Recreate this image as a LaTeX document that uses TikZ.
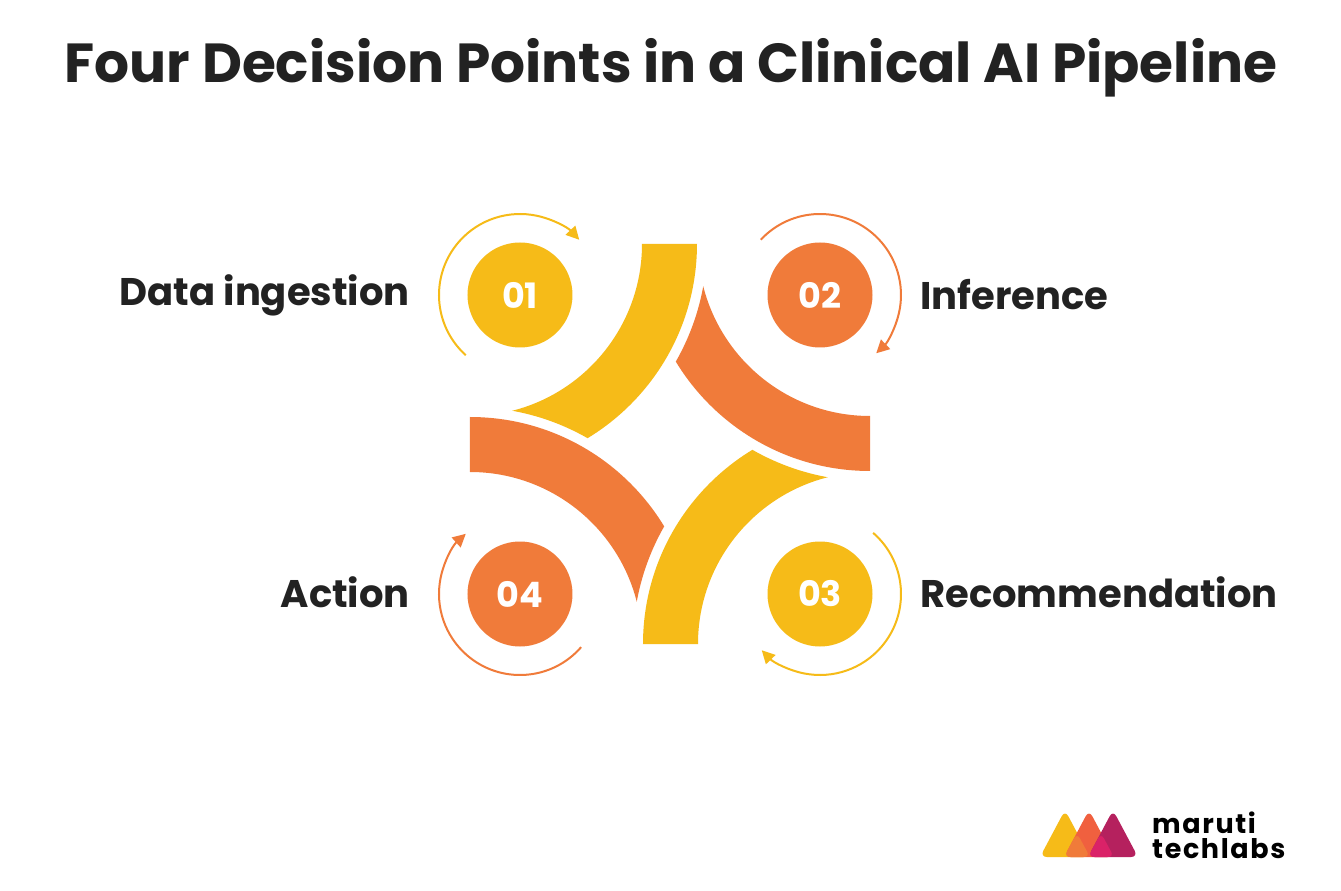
\documentclass[tikz,border=0pt]{standalone}
\usepackage{fontspec}
\setmainfont{Poppins}
\usetikzlibrary{arrows.meta}
\definecolor{yel}{HTML}{F6BB18}
\definecolor{ora}{HTML}{F07B3A}
\definecolor{txt}{HTML}{222222}
\definecolor{lred}{HTML}{F0603F}
\definecolor{lmag}{HTML}{B5215E}
\definecolor{lpink}{HTML}{DA2268}
\begin{document}
\begin{tikzpicture}[x=1pt,y=1pt,
  num/.style={circle,minimum size=105pt,inner sep=0pt,text=white,font=\bfseries\fontsize{35}{35}\selectfont},
  lab/.style={font=\bfseries\fontsize{38.5}{42}\selectfont,text=txt,inner sep=0pt},
  logo/.style={font=\bfseries\fontsize{27}{27}\selectfont\addfontfeatures{LetterSpace=6},anchor=west,inner sep=0pt,text=black},
  ring/.style={line width=2pt,-{Triangle[length=13pt,width=13pt]}}]
\useasboundingbox (-670,-447) rectangle (671,444);
\fill[white] (-670,-447) rectangle (671,444);
\node[font=\bfseries\fontsize{55}{60}\selectfont,text=txt] (title) at (1,376) {Four Decision Points in a Clinical AI Pipeline};
% bands
\coordinate (A) at (-200,200);\coordinate (B) at (200,200);
\coordinate (Cc) at (200,-200);\coordinate (D) at (-200,-200);
\begin{scope}[even odd rule]\clip (-700,-500) rectangle (700,500) (D) circle (237);
\fill[yel] ([shift={(0:172)}]A) arc (0:-90:172) -- ([shift={(-90:227)}]A) arc (-90:0:227) -- cycle;\end{scope}
\begin{scope}[even odd rule]\clip (-700,-500) rectangle (700,500) (A) circle (237);
\fill[ora] ([shift={(-90:172)}]B) arc (-90:-180:172) -- ([shift={(-180:227)}]B) arc (-180:-90:227) -- cycle;\end{scope}
\begin{scope}[even odd rule]\clip (-700,-500) rectangle (700,500) (B) circle (237);
\fill[yel] ([shift={(180:172)}]Cc) arc (180:90:172) -- ([shift={(90:227)}]Cc) arc (90:180:227) -- cycle;\end{scope}
\begin{scope}[even odd rule]\clip (-700,-500) rectangle (700,500) (Cc) circle (237);
\fill[ora] ([shift={(90:172)}]D) arc (90:0:172) -- ([shift={(0:227)}]D) arc (0:90:227) -- cycle;\end{scope}
% circles
\node[num,fill=yel] (n1) at (-150,149) {01};
\node[num,fill=ora] (n2) at (150,149) {02};
\node[num,fill=yel] (n3) at (150,-150) {03};
\node[num,fill=ora] (n4) at (-150,-150) {04};
\draw[ring,yel] ([shift={(228:81)}]n1.center) arc (228:43:81);
\draw[ring,ora] ([shift={(137:81)}]n2.center) arc (137:-46:81);
\draw[ring,yel] ([shift={(49:81)}]n3.center) arc (49:-136:81);
\draw[ring,ora] ([shift={(-41:81)}]n4.center) arc (-41:-228:81);
% labels
\node[lab,anchor=east] (l1) at (-260,149) {Data ingestion};
\node[lab,anchor=west] (l2) at (250,149) {Inference};
\node[lab,anchor=west] (l3) at (250,-148) {Recommendation};
\node[lab,anchor=east] (l4) at (-260,-148) {Action};
% logo
\fill[yel,rounded corners=7pt] (370,-413) -- (395,-366) -- (420,-413) -- cycle;
\fill[lred,rounded corners=7pt] (394,-413) -- (419,-366) -- (444,-413) -- cycle;
\fill[lmag,rounded corners=7pt] (418,-413) -- (443,-366) -- (468,-413) -- cycle;
\fill[ora,rounded corners=6pt] (394,-413) -- (407,-389) -- (420,-413) -- cycle;
\fill[lpink,rounded corners=6pt] (418,-413) -- (431,-389) -- (444,-413) -- cycle;
\node[logo] (m1) at (482,-379) {maruti};
\node[logo] (m2) at (482,-405) {techlabs};
\end{tikzpicture}
\end{document}
